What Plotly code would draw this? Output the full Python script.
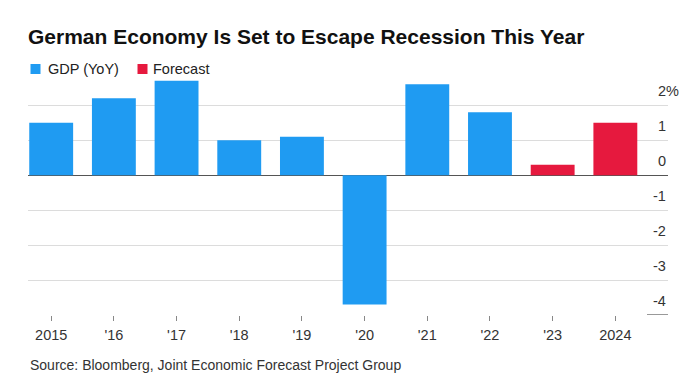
import plotly.graph_objects as go

# ---- data ----
years = ["2015", "'16", "'17", "'18", "'19", "'20", "'21", "'22", "'23", "2024"]
gdp_years = years[:8]
gdp_values = [1.5, 2.2, 2.7, 1.0, 1.1, -3.7, 2.6, 1.8]
forecast_years = years[8:]
forecast_values = [0.3, 1.5]
y_ticks = [2, 1, 0, -1, -2, -3, -4]
y_tick_labels = ["2%", "1", "0", "-1", "-2", "-3", "-4"]

title = "German Economy Is Set to Escape Recession This Year"
source = "Source: Bloomberg, Joint Economic Forecast Project Group"

BLUE = "#1f9bf2"
RED = "#e6193e"
FONT = "Liberation Sans, Arial, Helvetica, sans-serif"

W, H = 700, 390
L, R, T, B = 28, 32, 79, 75
PW, PH = W - L - R, H - T - B


def px_to_paper_x(p):
    return (p - L) / PW


def px_to_paper_y(p):
    return (H - B - p) / PH


fig = go.Figure()
fig.add_trace(go.Bar(x=gdp_years, y=gdp_values, name="GDP (YoY)",
                     marker=dict(color=BLUE, line=dict(width=0)), showlegend=False))
fig.add_trace(go.Bar(x=forecast_years, y=forecast_values, name="Forecast",
                     marker=dict(color=RED, line=dict(width=0)), showlegend=False))

annotations = []
# y tick labels above grid lines, right aligned
for v, lab in zip(y_ticks, y_tick_labels):
    annotations.append(dict(
        x=1, xref="paper", y=v, yref="y", text=lab, showarrow=False,
        xanchor="right", yanchor="bottom", yshift=4,
        xshift=13 if lab.endswith("%") else 0,
        font=dict(family=FONT, size=14.5, color="#333")))

# legend (manual)
legend_items = [("GDP (YoY)", BLUE, 30.5, 46), ("Forecast", RED, 137.5, 151)]
shapes = []
for name, col, sx, tx in legend_items:
    shapes.append(dict(type="rect", xref="paper", yref="paper",
                       x0=px_to_paper_x(sx), x1=px_to_paper_x(sx + 10),
                       y0=px_to_paper_y(74), y1=px_to_paper_y(64),
                       fillcolor=col, line=dict(width=0)))
    annotations.append(dict(x=px_to_paper_x(tx), xref="paper",
                            y=px_to_paper_y(69), yref="paper", text=name,
                            showarrow=False, xanchor="left", yanchor="middle",
                            font=dict(family=FONT, size=14.5, color="#222")))

# source note
annotations.append(dict(x=0, xref="paper", y=px_to_paper_y(365), yref="paper",
                        text=source, showarrow=False, xanchor="left",
                        yanchor="middle",
                        font=dict(family=FONT, size=14, color="#333")))

# short rule under the -4 label
shapes.append(dict(type="line", xref="paper", yref="y",
                   x0=px_to_paper_x(647), x1=1, y0=-4, y1=-4,
                   line=dict(color="#333", width=1)))

fig.update_layout(
    width=W, height=H,
    margin=dict(l=L, r=R, t=T, b=B, autoexpand=False),
    paper_bgcolor="white", plot_bgcolor="white",
    barmode="overlay", bargap=0.30,
    title=dict(text="<b>" + title + "</b>", x=L / W, xref="container",
               xanchor="left", y=1 - 37 / H, yref="container",
               yanchor="middle",
               font=dict(family=FONT, size=21, color="#111")),
    xaxis=dict(type="category", categoryorder="array", categoryarray=years,
               range=[-0.37, 9.84], showgrid=False, zeroline=False,
               showline=False, ticks="outside", ticklen=5, tickwidth=1,
               tickcolor="#888", ticklabelstandoff=2,
               tickfont=dict(family=FONT, size=14.5, color="#333")),
    yaxis=dict(range=[-4, 2.75], tickvals=[2, 1, -1, -2, -3],
               showticklabels=False, showgrid=True, gridcolor="#dcdcdc",
               gridwidth=1, zeroline=True, zerolinecolor="#555",
               zerolinewidth=1.2, showline=False, ticks=""),
    annotations=annotations,
    shapes=shapes,
    showlegend=False,
)

fig.write_html(
    "out.html",
    config={"displayModeBar": False},
    post_script="document.body.style.margin='0';document.body.style.padding='0';",
)
